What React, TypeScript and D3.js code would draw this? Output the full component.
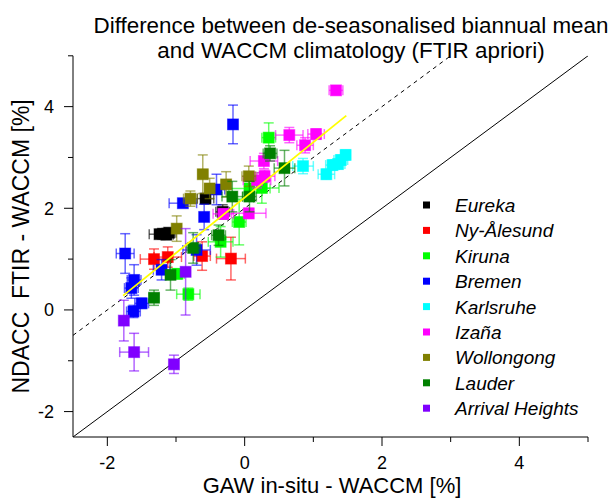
import React from "react";
import * as d3 from "d3";

// [x, y, xErr, yErr]
type Pt = [number, number, number, number];

const eureka: Pt[] = [
  [-1.24, 1.49, 0.15, 0.05], [-1.19, 1.5, 0.1, 0.05], [-1.14, 1.48, 0.1, 0.05],
  [-1.1, 1.52, 0.1, 0.05], [-0.57, 2.19, 0.12, 0.1], [-0.32, 1.93, 0.1, 0.14],
];
const nyAlesund: Pt[] = [
  [-1.32, 1.0, 0.2, 0.2], [-1.12, 1.04, 0.2, 0.2], [-0.62, 1.06, 0.12, 0.28], [-0.2, 1.01, 0.21, 0.42],
];
const kiruna: Pt[] = [
  [0.35, 3.39, 0.1, 0.29], [0.07, 2.39, 0.3, 0.25], [0.25, 2.4, 0.25, 0.3], [-0.08, 1.73, 0.1, 0.45],
  [-0.35, 1.34, 0.18, 0.3], [-0.98, 0.71, 0.1, 0.1], [-0.82, 0.31, 0.17, 0.12],
];
const bremen: Pt[] = [
  [-0.17, 3.65, 0.05, 0.38], [-0.41, 2.37, 0.12, 0.3], [-0.9, 2.1, 0.2, 0.07], [-0.59, 1.83, 0.05, 0.25],
  [-1.74, 1.11, 0.13, 0.39], [-0.7, 1.18, 0.2, 0.3], [-1.21, 0.79, 0.12, 0.2], [-1.61, 0.59, 0.1, 0.3],
  [-1.65, 0.43, 0.1, 0.2], [-1.5, 0.13, 0.1, 0.1], [-1.62, -0.03, 0.1, 0.12],
];
const karlsruhe: Pt[] = [
  [0.85, 2.83, 0.15, 0.15], [1.19, 2.67, 0.12, 0.1], [1.28, 2.85, 0.1, 0.1],
  [1.36, 2.87, 0.1, 0.1], [1.47, 3.05, 0.07, 0.1], [1.4, 2.95, 0.1, 0.1],
];
const izana: Pt[] = [
  [1.33, 4.32, 0.1, 0.07], [0.65, 3.44, 0.2, 0.15], [1.04, 3.46, 0.12, 0.1], [0.88, 3.24, 0.12, 0.15],
  [0.28, 2.93, 0.2, 0.15], [0.29, 2.63, 0.15, 0.12], [0.18, 2.55, 0.2, 0.15], [-0.31, 1.89, 0.15, 0.1],
  [0.06, 1.9, 0.25, 0.1],
];
const wollongong: Pt[] = [
  [-0.61, 2.67, 0.07, 0.38], [-0.51, 2.39, 0.07, 0.2], [-0.27, 2.47, 0.07, 0.25],
  [-0.79, 2.19, 0.1, 0.15], [0.06, 2.63, 0.1, 0.2], [-0.99, 1.6, 0.05, 0.25],
];
const lauder: Pt[] = [
  [0.37, 3.08, 0.1, 0.15], [0.58, 2.79, 0.15, 0.35], [-0.18, 2.23, 0.15, 0.3], [0.07, 2.23, 0.1, 0.3],
  [-0.38, 1.47, 0.1, 0.2], [-0.75, 1.22, 0.1, 0.3], [-1.08, 0.69, 0.07, 0.3], [-1.32, 0.24, 0.07, 0.15],
];
const arrivalHeights: Pt[] = [
  [-0.86, 0.75, 0.05, 0.85], [-1.76, -0.21, 0.05, 0.4], [-1.61, -0.83, 0.21, 0.37], [-1.03, -1.07, 0.04, 0.18],
];

const stationNames = ["Eureka", "Ny-Ålesund", "Kiruna", "Bremen", "Karlsruhe", "Izaña", "Wollongong", "Lauder", "Arrival Heights"];
const stationColors = ["#000000", "#ff0000", "#00ff00", "#0000ff", "#00ffff", "#ff00ff", "#808000", "#008000", "#8000ff"];
const stationData = [eureka, nyAlesund, kiruna, bremen, karlsruhe, izana, wollongong, lauder, arrivalHeights];

const majorTicks = [-2, 0, 2, 4];
const minorTicks = [-1, 1, 3, 5];
const xDomain: [number, number] = [-2.5, 5];
const yDomain: [number, number] = [-2.5, 5];
const fitLine = { x0: -1.77, x1: 1.48, slope: 1.09, intercept: 2.21 };
const dashedOffset = 2.0;

const titleLines = ["Difference between de-seasonalised biannual mean", "and WACCM climatology (FTIR apriori)"];
const xLabel = "GAW in-situ - WACCM [%]";
const yLabel = "NDACC  FTIR - WACCM [%]";

export default function App() {
  const W = 613, H = 498;
  const left = 73, right = 588, top = 55.8, bottom = 437;
  const x = d3.scaleLinear().domain(xDomain).range([left, right]);
  const y = d3.scaleLinear().domain(yDomain).range([bottom, top]);
  const font = "'Liberation Sans', Arial, sans-serif";
  const ms = 11;
  const cap = 5;

  const lineGen = d3.line<[number, number]>().x(d => x(d[0])).y(d => y(d[1]));
  const solid: [number, number][] = [[-2.5, -2.5], [5, 5]];
  const dashed: [number, number][] = [[-2.5, -2.5 + dashedOffset], [5 - dashedOffset, 5]];
  const fit: [number, number][] = [
    [fitLine.x0, fitLine.x0 * fitLine.slope + fitLine.intercept],
    [fitLine.x1, fitLine.x1 * fitLine.slope + fitLine.intercept],
  ];

  return (
    <svg width={W} height={H} style={{ position: "absolute", left: 0, top: 0 }} fontFamily={font}>
      <rect width={W} height={H} fill="#fff" />
      <defs>
        <clipPath id="plot">
          <rect x={left} y={top} width={right - left} height={bottom - top} />
        </clipPath>
      </defs>
      {titleLines.map((t, i) => (
        <text key={i} x={351} y={33 + i * 25} textAnchor="middle" fontSize={22.4}>{t}</text>
      ))}
      <g clipPath="url(#plot)">
        <path d={lineGen(solid) || ""} stroke="#000" strokeWidth={1} fill="none" />
        <path d={lineGen(dashed) || ""} stroke="#000" strokeWidth={1} strokeDasharray="4,4" fill="none" />
      </g>
      {stationData.map((pts, si) => (
        <g key={si}>
          {pts.map((p, i) => {
            const cx = x(p[0]), cy = y(p[1]);
            const x0 = x(p[0] - p[2]), x1 = x(p[0] + p[2]);
            const y0 = y(p[1] - p[3]), y1 = y(p[1] + p[3]);
            const c = stationColors[si];
            return (
              <g key={i}>
                <g stroke={c} strokeWidth={1.5} strokeOpacity={0.6} fill="none">
                  <line x1={x0} x2={x1} y1={cy} y2={cy} />
                  <line x1={x0} x2={x0} y1={cy - cap} y2={cy + cap} />
                  <line x1={x1} x2={x1} y1={cy - cap} y2={cy + cap} />
                  <line x1={cx} x2={cx} y1={y0} y2={y1} />
                  <line x1={cx - cap} x2={cx + cap} y1={y0} y2={y0} />
                  <line x1={cx - cap} x2={cx + cap} y1={y1} y2={y1} />
                </g>
                <rect x={cx - ms / 2} y={cy - ms / 2} width={ms} height={ms} fill={c} stroke={c} strokeOpacity={0.5} strokeWidth={1} />
              </g>
            );
          })}
        </g>
      ))}
      <path d={lineGen(fit) || ""} stroke="#ffff00" strokeWidth={1.8} fill="none" />
      <line x1={left} x2={right} y1={bottom} y2={bottom} stroke="#000" strokeWidth={1} />
      <line x1={left} x2={left} y1={top} y2={bottom} stroke="#000" strokeWidth={1} />
      {majorTicks.map(t => (
        <g key={"xm" + t}>
          <line x1={x(t)} x2={x(t)} y1={bottom} y2={bottom + 9} stroke="#000" />
          <text x={x(t)} y={bottom + 32} textAnchor="middle" fontSize={18}>{t}</text>
        </g>
      ))}
      {minorTicks.map(t => (
        <line key={"xn" + t} x1={x(t)} x2={x(t)} y1={bottom} y2={bottom + 5} stroke="#000" />
      ))}
      {majorTicks.map(t => (
        <g key={"ym" + t}>
          <line x1={left - 9} x2={left} y1={y(t)} y2={y(t)} stroke="#000" />
          <text x={left - 19} y={y(t) + 6.5} textAnchor="end" fontSize={18}>{t}</text>
        </g>
      ))}
      {minorTicks.map(t => (
        <line key={"yn" + t} x1={left - 5} x2={left} y1={y(t)} y2={y(t)} stroke="#000" />
      ))}
      <text x={332} y={493} textAnchor="middle" fontSize={22}>{xLabel}</text>
      <text transform={`translate(29,${(top + bottom) / 2}) rotate(-90)`} textAnchor="middle" fontSize={23} style={{ whiteSpace: "pre" }}>{yLabel}</text>
      {stationNames.map((n, i) => (
        <g key={n} transform={`translate(0,${205 + i * 25.4})`}>
          <rect x={423} y={-3.5} width={7} height={7} fill={stationColors[i]} />
          <text x={455} y={7} fontSize={19} fontStyle="italic">{n}</text>
        </g>
      ))}
    </svg>
  );
}
